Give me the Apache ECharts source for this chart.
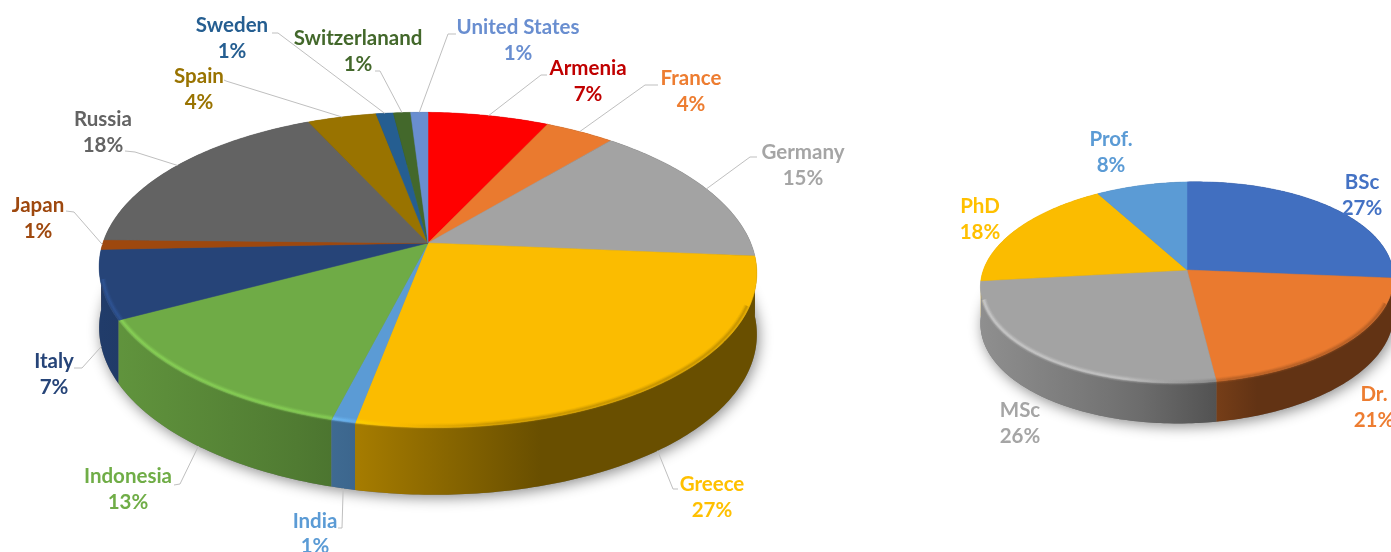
<!DOCTYPE html>
<html>
<head>
<meta charset="utf-8">
<style>
  html, body { margin: 0; padding: 0; background: #fff; }
  #chart { width: 1391px; height: 552px; }
</style>
<script src="https://cdn.jsdelivr.net/npm/echarts@6/dist/echarts.min.js"></script>
</head>
<body>
<div id="chart"></div>
<script>
// left pie: countries
const countries = ['Armenia', 'France', 'Germany', 'Greece', 'India', 'Indonesia', 'Italy', 'Japan', 'Russia', 'Spain', 'Sweden', 'Switzerlanand', 'United States']
const countryShare = [7, 4, 15, 27, 1, 13, 7, 1, 18, 4, 1, 1, 1]
const countryColors = ['#ff0000', '#ea7a2f', '#a3a3a3', '#fbbc00', '#5b9bd5', '#6fab46', '#264478', '#9e480e', '#636363', '#997300', '#255e91', '#43682b', '#698ed0']
const countryLabelColors = ['#c00000', '#ed7d31', '#a5a5a5', '#ffc000', '#5b9bd5', '#70ad47', '#264478', '#9e480e', '#636363', '#997300', '#255e91', '#43682b', '#698ed0']

// right pie: degrees
const degrees = ['BSc', 'Dr.', 'MSc', 'PhD', 'Prof.']
const degreeShare = [27, 21, 26, 18, 8]
const degreeColors = ['#416fc0', '#ea7a2f', '#a3a3a3', '#fbbc00', '#5b9bd5']
const degreeLabelColors = ['#4472c4', '#ed7d31', '#a5a5a5', '#ffc000', '#5b9bd5']

// label layout: [center x, name y, percent y]
const countryLabelPos = [[588, 68, 94], [691, 78, 104], [803, 152, 178], [712, 484, 510], [315, 521, 546], [128, 476, 502], [54, 361, 387], [38, 205, 231], [103, 119, 145], [199, 76, 102], [232, 25, 51], [358, 38, 64], [518, 27, 53]]
const degreeLabelPos = [[1362, 182, 208], [1374, 394, 420], [1020, 410, 436], [980, 206, 232], [1111, 139, 165]]
// leader line ends: [far end x, y, elbow x, y]
const countryLeaders = [[547, 75, 541, 75], [658, 85, 645, 85], [757, 157, 750, 157], [678, 489, 673, 489], [338, 528, 342, 528], [174, 485, 180, 484], [74, 368, 82, 368], [66, 211, 74, 212], [125, 151, 135, 152], [224, 80, 226, 81], [272, 33, 278, 33], [375, 71, 380, 71], [456, 34, 448, 34]]

const bigPie = { cx: 428, cy: 243, r: 324, ry: 153, k: 0.171, shear: 0.01, depth: 60, left: 100, width: 657 }
const smallPie = { cx: 1187, cy: 270, r: 205, ry: 99, k: 0.124, shear: -0.022, depth: 36, left: 980, width: 414 }

// tilted disc, theta runs clockwise from 12 o'clock
function project(pie, theta, down, scale) {
  const u = Math.sin(theta)
  const v = -Math.cos(theta)
  const s = (scale || 1) / (1 - pie.k * v)
  const dx = pie.r * u * s
  const y = pie.cy + pie.ry * v * s + pie.shear * dx
  return {
    x: pie.cx + dx,
    y: down ? y + pie.depth * (1 + 0.12 * v) : y,
    v: v
  }
}

function arc(pie, a0, a1, down, scale) {
  const steps = Math.max(2, Math.ceil((a1 - a0) / 0.015))
  const pts = []
  for (let i = 0; i <= steps; i++) {
    const p = project(pie, a0 + (a1 - a0) * i / steps, down, scale)
    pts.push([p.x, p.y])
  }
  return pts
}

function shade(hex, f) {
  const n = parseInt(hex.slice(1), 16)
  const c = [n >> 16, (n >> 8) & 255, n & 255].map(d => Math.min(255, Math.round(d * f)))
  return `rgb(${c[0]},${c[1]},${c[2]})`
}

// side lighting, same sweep left to right on both pies
function sweep(pie, color, stops) {
  return {
    type: 'linear',
    global: true,
    x: pie.left,
    y: 0,
    x2: pie.left + pie.width,
    y2: 0,
    colorStops: stops.map(s => ({ offset: s[0], color: shade(color, s[1]) }))
  }
}
const wallStops = [[0, 0.88], [0.3, 0.72], [0.39, 0.66], [0.67, 0.42], [1, 0.42]]
const rimStops = [[0, 1.3], [0.35, 1.25], [0.45, 1], [0.6, 0.72], [1, 0.7]]

function angles(values) {
  const total = values.reduce((a, b) => a + b, 0)
  let run = 0
  return values.map(v => {
    const a0 = run / total * Math.PI * 2
    run += v
    return [a0, run / total * Math.PI * 2]
  })
}

function pieSeries(pie, names, values, colors, labelColors, labelPos, leaders) {
  const ang = angles(values)
  const data = values.map((v, i) => [v, i])
  const base = { type: 'custom', coordinateSystem: 'none', data: data, silent: true, animation: false }

  const walls = Object.assign({}, base, {
    z: 1,
    renderItem(params) {
      const i = params.dataIndex
      const [a0, a1] = ang[i]
      const midV = project(pie, (a0 + a1) / 2).v
      const children = []
      if (i === 0) {
        children.push({
          type: 'polygon',
          z2: 0,
          shape: { points: arc(pie, 0, Math.PI * 2, true) },
          style: { fill: '#777', shadowBlur: 14, shadowColor: 'rgba(0,0,0,0.45)', shadowOffsetY: 3, shadowOffsetX: 2 }
        })
      }
      // nearer walls go over the ones behind them
      children.push({
        type: 'polygon',
        z2: 200 + Math.round(midV * 100),
        shape: { points: arc(pie, a0, a1, false).concat(arc(pie, a0, a1, true).reverse()) },
        style: { fill: sweep(pie, colors[i], wallStops) }
      })
      return { type: 'group', children: children }
    }
  })

  const tops = Object.assign({}, base, {
    z: 2,
    renderItem(params) {
      const i = params.dataIndex
      const [a0, a1] = ang[i]
      const children = [{
        type: 'polygon',
        shape: { points: [[pie.cx, pie.cy]].concat(arc(pie, a0, a1, false)) },
        style: { fill: colors[i], stroke: colors[i], lineWidth: 0.5 }
      }]
      // soft bevel along the front rim, stacked strokes instead of a blur
      const b0 = Math.max(a0, Math.PI * 0.62)
      const b1 = Math.min(a1, Math.PI * 1.42)
      if (b1 > b0) {
        const pts = arc(pie, b0, b1, false, 0.992)
        const rim = [[6, 0.15], [4, 0.25], [2, 0.45]]
        rim.forEach(r => {
          children.push({
            type: 'polyline',
            shape: { points: pts },
            style: { fill: 'none', stroke: sweep(pie, colors[i], rimStops), lineWidth: r[0], opacity: r[1] }
          })
        })
      }
      return { type: 'group', children: children }
    }
  })

  const labels = Object.assign({}, base, {
    z: 3,
    renderItem(params) {
      const i = params.dataIndex
      const pos = labelPos[i]
      const font = 'bold 20.5px Lato, "Open Sans", sans-serif'
      const children = []
      if (leaders) {
        const mid = (ang[i][0] + ang[i][1]) / 2
        const start = project(pie, mid, project(pie, mid).v > 0.2)
        const l = leaders[i]
        children.push({
          type: 'polyline',
          shape: { points: [[start.x, start.y], [l[2], l[3]], [l[0], l[1]]] },
          style: { fill: 'none', stroke: '#bfbfbf', lineWidth: 1 }
        })
      }
      children.push({
        type: 'text',
        style: { x: pos[0], y: pos[1], text: names[i], fill: labelColors[i], font: font, align: 'center', verticalAlign: 'middle' }
      })
      children.push({
        type: 'text',
        style: { x: pos[0], y: pos[2], text: values[i] + '%', fill: labelColors[i], font: font, align: 'center', verticalAlign: 'middle' }
      })
      return { type: 'group', children: children }
    }
  })

  return [walls, tops, labels]
}

const chart = echarts.init(document.getElementById('chart'))
chart.setOption({
  animation: false,
  backgroundColor: '#fff',
  series: [].concat(
    pieSeries(bigPie, countries, countryShare, countryColors, countryLabelColors, countryLabelPos, countryLeaders),
    pieSeries(smallPie, degrees, degreeShare, degreeColors, degreeLabelColors, degreeLabelPos, null)
  )
})
</script>
</body>
</html>
